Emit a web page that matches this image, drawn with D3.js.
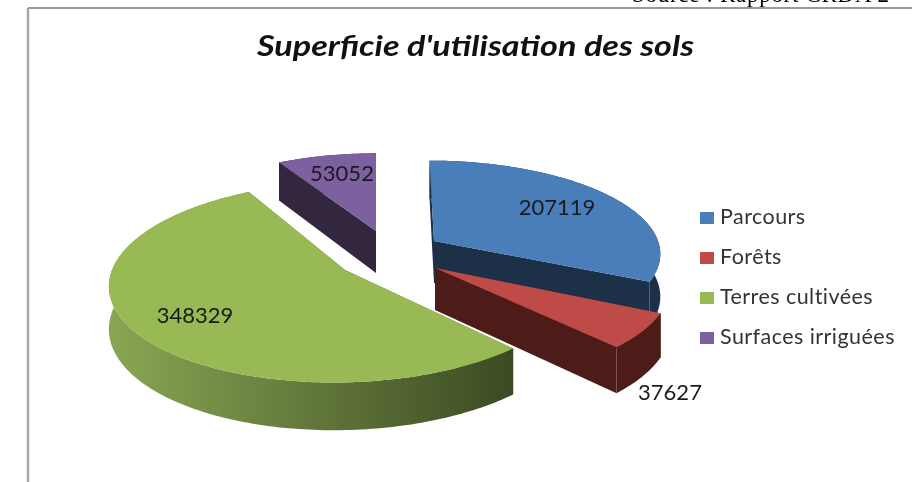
<!DOCTYPE html>
<html>
<head>
<meta charset="utf-8">
<script src="https://cdn.jsdelivr.net/npm/d3@7"></script>
<style>
  html, body { margin: 0; padding: 0; background: #fff; overflow: hidden; }
  svg { display: block; filter: blur(0.45px); }
</style>
</head>
<body>
<div id="chart"></div>
<script>
const categories = ["Parcours", "Forêts", "Terres cultivées", "Surfaces irriguées"];
const values = [207119, 37627, 348329, 53052];
const colors = ["#4a7ebb", "#be4b48", "#98b954", "#7d60a0"];
const wallColors = ["#1c3048", "#4d1c18", "#4a5a2a", "#33263f"];

// where each exploded slice sits: top-surface tip and ellipse radii
const sliceTips = [[434, 241], [435, 268], [345, 270], [376, 231]];
const sliceRadiusX = [224, 234, 233, 217];
const sliceRadiusY = [90, 100, 99, 87];
const sliceLean = [-5, -6, 10, 0];

const width = 912, height = 482;
const perspective = 0.12, depth = 42;

const svg = d3.select("#chart").append("svg")
  .attr("width", width)
  .attr("height", height)
  .attr("viewBox", [0, 0, width, height].join(" "));

const defs = svg.append("defs");
const greenWall = defs.append("linearGradient")
  .attr("id", "greenWall")
  .attr("gradientUnits", "userSpaceOnUse")
  .attr("x1", 109).attr("x2", 513)
  .attr("y1", 0).attr("y2", 0);
greenWall.append("stop").attr("offset", 0).attr("stop-color", "#8aa653");
greenWall.append("stop").attr("offset", 1).attr("stop-color", "#3b4a22");

svg.append("text")
  .attr("x", 632).attr("y", 2)
  .attr("font-family", "Liberation Serif")
  .attr("font-size", 23)
  .attr("letter-spacing", 0.7)
  .attr("fill", "#000")
  .text("Source : Rapport CRDA 2");

// frame of the pasted picture
svg.append("line").attr("x1", 28).attr("x2", width).attr("y1", 8).attr("y2", 8)
  .attr("stroke", "#777").attr("stroke-width", 1.5);
svg.append("line").attr("x1", 28).attr("x2", 28).attr("y1", 8).attr("y2", height)
  .attr("stroke", "#a6a6a6").attr("stroke-width", 2.5);

svg.append("text")
  .attr("x", 257).attr("y", 56)
  .attr("font-family", "Lato")
  .attr("font-weight", 700)
  .attr("font-style", "italic")
  .attr("font-size", 28)
  .attr("textLength", 437)
  .attr("lengthAdjust", "spacingAndGlyphs")
  .attr("fill", "#111")
  .text("Superficie d'utilisation  des sols");

const pie = d3.pie().sort(null).value(d => d);
const arcs = pie(values);

// ground plane angle -> screen point, nearer points get bigger
function project(i, a, r, drop) {
  const s = 1 / (1 + perspective * Math.cos(a) * r);
  const tip = sliceTips[i];
  return [
    tip[0] + (sliceRadiusX[i] * Math.sin(a) + sliceLean[i] * Math.cos(a)) * r * s,
    tip[1] - sliceRadiusY[i] * Math.cos(a) * r * s + drop * s
  ];
}

function rimAngles(arc) {
  const n = Math.ceil((arc.endAngle - arc.startAngle) / 0.02);
  return d3.range(n + 1).map(k => arc.startAngle + (arc.endAngle - arc.startAngle) * k / n);
}

const line = d3.line();
const pieGroup = svg.append("g");

arcs.forEach((arc, i) => {
  const g = pieGroup.append("g");
  const angles = rimAngles(arc);
  const wallFill = i === 2 ? "url(#greenWall)" : wallColors[i];

  // radial faces
  [arc.startAngle, arc.endAngle].forEach(a => {
    g.append("path")
      .attr("d", line([project(i, a, 0, 0), project(i, a, 1, 0), project(i, a, 1, depth), project(i, a, 0, depth)]) + "Z")
      .attr("fill", wallColors[i]);
  });

  // outer rim
  const rimTop = angles.map(a => project(i, a, 1, 0));
  const rimBottom = angles.map(a => project(i, a, 1, depth)).reverse();
  g.append("path")
    .attr("d", line(rimTop.concat(rimBottom)) + "Z")
    .attr("fill", wallFill);

  // top surface
  g.append("path")
    .attr("d", line([project(i, 0, 0, 0)].concat(rimTop)) + "Z")
    .attr("fill", colors[i]);
});

// data labels, placed as in the original
const labelPos = [[557, 215], [670, 400], [195, 323], [342, 181]];
svg.append("g").selectAll("text")
  .data(values)
  .enter().append("text")
  .attr("x", (d, i) => labelPos[i][0])
  .attr("y", (d, i) => labelPos[i][1])
  .attr("text-anchor", "middle")
  .attr("font-family", "Lato")
  .attr("font-size", 22)
  .attr("fill", "#1a1a1a")
  .text(d => d);

// legend
const legend = svg.append("g").selectAll("g")
  .data(categories)
  .enter().append("g")
  .attr("transform", (d, i) => "translate(700," + (212 + i * 40) + ")");

legend.append("rect")
  .attr("width", 14)
  .attr("height", 12)
  .attr("fill", (d, i) => colors[i]);

legend.append("text")
  .attr("x", 20)
  .attr("y", 12)
  .attr("font-family", "Lato")
  .attr("font-size", 21.5)
  .attr("letter-spacing", 0.45)
  .attr("fill", "#333")
  .text(d => d);
</script>
</body>
</html>
